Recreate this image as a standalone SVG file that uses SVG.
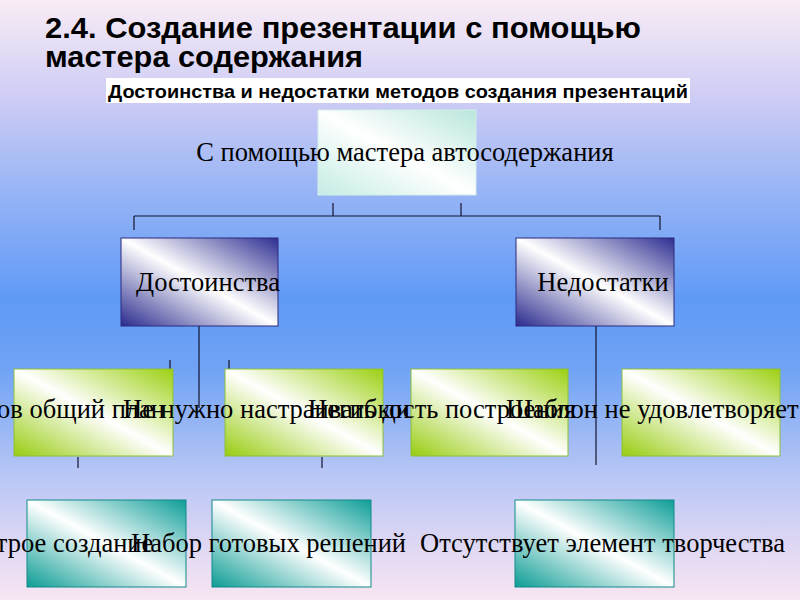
<svg xmlns="http://www.w3.org/2000/svg" width="800" height="600" viewBox="0 0 800 600">
<defs>
<linearGradient id="bg" x1="0" y1="0" x2="0" y2="1">
<stop offset="0" stop-color="#f8ecf5"/>
<stop offset="0.16" stop-color="#cfcdf5"/>
<stop offset="0.32" stop-color="#97b4f5"/>
<stop offset="0.5" stop-color="#5f9af6"/>
<stop offset="0.62" stop-color="#72a4f5"/>
<stop offset="0.78" stop-color="#b4c4f5"/>
<stop offset="0.9" stop-color="#dcd6f4"/>
<stop offset="1" stop-color="#f8e6f2"/>
</linearGradient>
<linearGradient id="gTop" x1="0" y1="1" x2="1" y2="0">
<stop offset="0" stop-color="#c4ece4"/>
<stop offset="0.5" stop-color="#ffffff"/>
<stop offset="1" stop-color="#b8e6dc"/>
</linearGradient>
<linearGradient id="gNavy" x1="0" y1="1" x2="1" y2="0">
<stop offset="0" stop-color="#2a2a8e"/>
<stop offset="0.5" stop-color="#ffffff"/>
<stop offset="1" stop-color="#2e2e92"/>
</linearGradient>
<linearGradient id="gGreen" x1="0" y1="1" x2="1" y2="0">
<stop offset="0" stop-color="#98cc10"/>
<stop offset="0.5" stop-color="#ffffff"/>
<stop offset="1" stop-color="#9cd012"/>
</linearGradient>
<linearGradient id="gTeal" x1="0" y1="1" x2="1" y2="0">
<stop offset="0" stop-color="#0c9c94"/>
<stop offset="0.5" stop-color="#ffffff"/>
<stop offset="1" stop-color="#0e9e98"/>
</linearGradient>
<style>
.title{font-family:"Liberation Sans",Arial,sans-serif;font-weight:bold;font-size:30px;fill:#000}
.sub{font-family:"Liberation Sans",Arial,sans-serif;font-weight:bold;font-size:19px;fill:#000}
.lbl{font-family:"Liberation Serif","Times New Roman",serif;font-size:26.5px;fill:#000}
.c{text-anchor:middle}
.top{fill:url(#gTop);stroke:#d4eeea;stroke-width:1}
.navy{fill:url(#gNavy);stroke:#2a2a7e;stroke-width:1}
.green{fill:url(#gGreen);stroke:#8cbf3c;stroke-width:1}
.teal{fill:url(#gTeal);stroke:#138a8a;stroke-width:1}
.ln{stroke:#141430;stroke-width:1.2;fill:none}
</style>
</defs>
<rect x="0" y="0" width="800" height="600" fill="url(#bg)"/>
<g id="title">
<text class="title" x="45" y="38" textLength="596" lengthAdjust="spacingAndGlyphs">2.4. Создание презентации с помощью</text>
<text class="title" x="45" y="67" textLength="318" lengthAdjust="spacingAndGlyphs">мастера содержания</text>
</g>
<g id="subtitle">
<rect x="106" y="78" width="584" height="25" fill="#ffffff"/>
<text class="sub" x="108" y="98" textLength="580" lengthAdjust="spacingAndGlyphs">Достоинства и недостатки методов создания презентаций</text>
</g>
<g id="connectors">
<path class="ln" d="M333 203V216M461 203V216M134 216H660M134 216V230M660 216V230"/>
<path class="ln" d="M199 326V408M170 360V369M229 360V369M78 457V468M322 457V468"/>
<path class="ln" d="M596 326V465"/>
</g>
<g id="node-root">
<rect class="top" x="318" y="110" width="158" height="85"/>
<text class="lbl c" x="405" y="161">С помощью мастера автосодержания</text>
</g>
<g id="node-dost">
<rect class="navy" x="121" y="238" width="157" height="88"/>
<text class="lbl c" x="208" y="291">Достоинства</text>
</g>
<g id="node-nedost">
<rect class="navy" x="516" y="238" width="158" height="88"/>
<text class="lbl c" x="603" y="291">Недостатки</text>
</g>
<g id="node-g1">
<rect class="green" x="14" y="369" width="159" height="87"/>
<text class="lbl" x="-40" y="418">Готов общий план</text>
</g>
<g id="node-g2">
<rect class="green" x="225" y="369" width="158" height="87"/>
<text class="lbl" x="123" y="418">Не нужно настраивать дизайн</text>
</g>
<g id="node-g3">
<rect class="green" x="411" y="369" width="157" height="87"/>
<text class="lbl" x="308" y="418">Негибкость построения</text>
</g>
<g id="node-g4">
<rect class="green" x="622" y="369" width="158" height="87"/>
<text class="lbl" x="506" y="418">Шаблон не удовлетворяет</text>
</g>
<g id="node-t1">
<rect class="teal" x="27" y="500" width="159" height="87"/>
<text class="lbl" x="-49" y="552">Быстрое создание</text>
</g>
<g id="node-t2">
<rect class="teal" x="212" y="500" width="159" height="87"/>
<text class="lbl" x="131" y="552">Набор готовых решений</text>
</g>
<g id="node-t3">
<rect class="teal" x="515" y="500" width="159" height="87"/>
<text class="lbl" x="420" y="552">Отсутствует элемент творчества</text>
</g>
</svg>
